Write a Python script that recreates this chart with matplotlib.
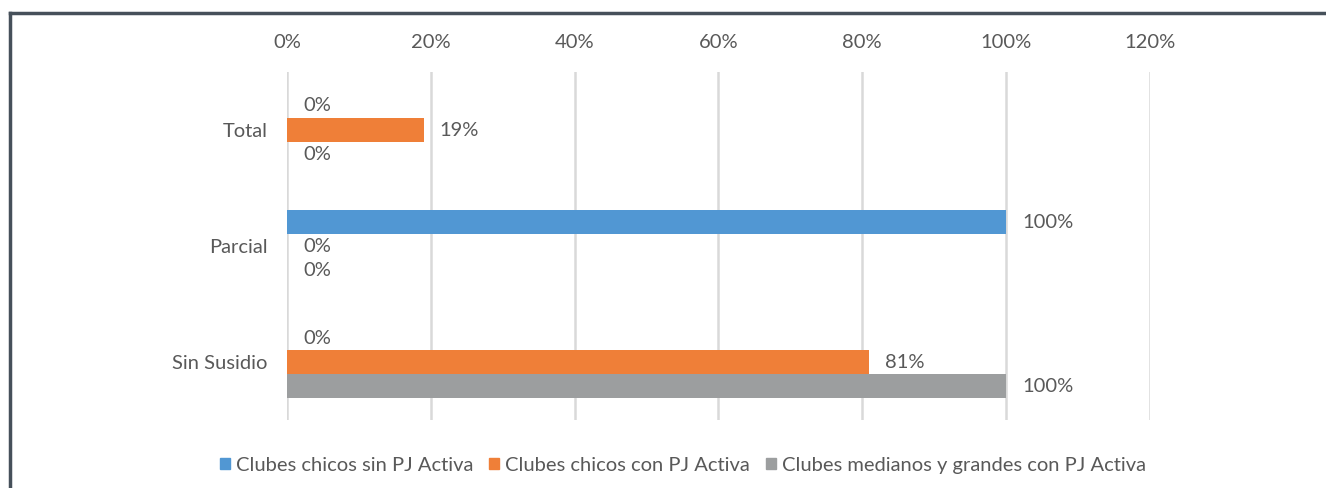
"""Horizontal grouped bar chart: subsidy type by club group."""

import matplotlib
import matplotlib.pyplot as plt
import numpy as np
from matplotlib.lines import Line2D

matplotlib.use("Agg")

# ---------------------------------------------------------------------------
# Data
# ---------------------------------------------------------------------------

categories = ["Total", "Parcial", "Sin Susidio"]
series_names = [
    "Clubes chicos sin PJ Activa",
    "Clubes chicos con PJ Activa",
    "Clubes medianos y grandes con PJ Activa",
]
chicos_sin_pj = [0, 100, 0]
chicos_con_pj = [19, 0, 81]
medianos_grandes = [0, 0, 100]
x_ticks = [0, 20, 40, 60, 80, 100, 120]

COLOURS = ["#5197D3", "#EF7F38", "#9C9E9F"]
TEXT = "#595959"
FS = 14.5

plt.rcParams["font.family"] = ["Lato", "DejaVu Sans"]

fig = plt.figure(figsize=(13.26, 4.88), dpi=100)
ax = fig.add_axes([0.2164, 0.139, 0.6508, 0.7135])

y = np.arange(len(categories))
h = 0.207
values = [chicos_sin_pj, chicos_con_pj, medianos_grandes]
for i, (vals, name, col) in enumerate(zip(values, series_names, COLOURS)):
    pos = y + (i - 1) * h
    ax.barh(pos, vals, height=h, color=col, label=name, zorder=3)
    for p, v in zip(pos, vals):
        ax.annotate(f"{v}%", (v, p), xytext=(11.5, 0), textcoords="offset points",
                    va="center", ha="left", fontsize=FS, color=TEXT)

ax.set_xlim(0, 120)
ax.set_ylim(len(categories) - 0.5, -0.5)
ax.set_xticks(x_ticks)
ax.set_xticklabels([f"{t}%" for t in x_ticks])
ax.xaxis.tick_top()
ax.set_yticks(y)
ax.set_yticklabels(categories)
ax.tick_params(axis="both", length=0, labelsize=FS, colors=TEXT)
ax.tick_params(axis="x", pad=15)
ax.tick_params(axis="y", pad=14)
for s in ax.spines.values():
    s.set_visible(False)
ax.grid(visible=True, axis="x", color="#D9D9D9", linewidth=1.8, zorder=0)

handles = [plt.Rectangle((0, 0), 1, 1, color=c) for c in COLOURS]
fig.legend(handles, series_names, loc="center", bbox_to_anchor=(0.515, 0.047),
           ncol=3, frameon=False, fontsize=FS, labelcolor=TEXT,
           handlelength=0.5, handleheight=0.5, handletextpad=0.3, columnspacing=0.8)

# outer frame (top and left edges visible in the crop)
fig.add_artist(Line2D([0.0075, 1.0], [0.973, 0.973], transform=fig.transFigure,
                      color="#46505A", linewidth=2.5))
fig.add_artist(Line2D([0.0075, 0.0075], [0.0, 0.973], transform=fig.transFigure,
                      color="#46505A", linewidth=2.5))

fig.savefig("out.png", dpi=100)
plt.close(fig)
